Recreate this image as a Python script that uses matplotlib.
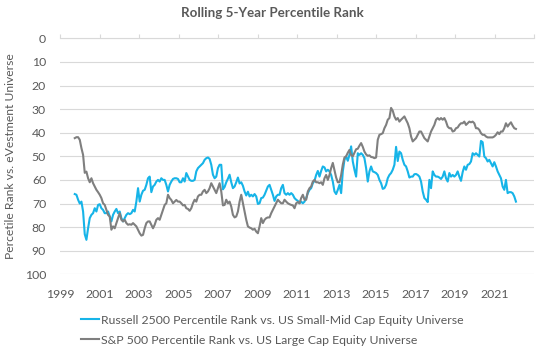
import matplotlib
matplotlib.use("Agg")
import matplotlib.pyplot as plt
import numpy as np
import pandas as pd

# monthly readings, Oct 1999 .. Feb 2022
RUSSELL_2500 = [
    66, 66.3, 68.4, 70, 69.2, 73.4, 83, 85.4, 80.5, 76.2, 74.8, 74.1, 72, 73.4, 70.6, 70.3,
    72, 72.7, 74.1, 74.1, 73.4, 75.5, 77.6, 74.8, 73.4, 72.3, 74.1, 73.4, 76.2, 77.6, 76.2, 74.8,
    74.1, 74.5, 74.1, 72.7, 73.4, 69.2, 63.5, 69.2, 66.3, 64.6, 64.2, 62.1, 59.3, 58.6, 65.2, 62.8,
    62.1, 60.7, 60, 60.7, 59.3, 60, 60, 62.1, 64.9, 62.1, 60.7, 59.6, 59.3, 59.3, 59.6, 61,
    61, 59.3,
    60.7, 57.1, 58.5, 60, 60.4, 60.4, 60, 56.4, 55, 54.3, 53.6, 52.9, 51.5, 50.8, 50.5, 51.1,
    53.6, 57.8, 59.3, 58.6, 55, 53.6, 53.6, 64, 63, 61, 59.5, 57.8, 61, 63.5, 62.8, 61,
    59, 61.5, 61, 62.5, 64.9, 66.6, 65, 67, 66.3, 67, 66, 67, 70.2, 69.9, 67.7, 67.5,
    66.3, 64.6, 62.8, 62.1, 64.2, 66.3, 68.9, 67, 66.3, 66.3, 63.5, 62.1, 65.6, 66.3, 65.6, 66.3,
    65.6, 66.3, 67.7, 68.4, 68.9, 69.9, 69.2, 69.9,
    69.2, 67.7, 65.6, 64.2, 63.5, 61.4, 60.4, 57.9, 56.2, 58.6, 56.2, 54.3, 54.7, 56.4, 55.7, 56.4,
    57.9, 60.7, 64.9, 66, 64.2, 62.1, 65.6, 56.4, 51.5, 50.1, 51.9, 49.4, 45.8, 52.2, 55.7, 58.6,
    48.7, 49.4, 48.7, 49.4, 50.8, 55, 60.7, 56.4, 54.3, 56.4, 56.7, 57.1, 57.9, 60, 61.4, 63.8,
    63.5, 62.1, 59.3, 57.9, 57.1, 55.7, 53.6, 46, 52, 48, 48.7, 51.5, 53.6, 54.3, 56.4, 59,
    58.6, 58.6, 57.6,
    57.5, 57.9, 58.6, 60.7, 64.9, 67.7, 68.4, 69.4, 60, 63.5, 56.4, 57.9, 58.6, 58.6, 59, 59.6,
    58.6, 56.4, 59.3, 60.7, 57.1, 58.6, 57.9, 58.6, 57.9, 56.4, 58.6, 60.4, 56.7, 54.3, 55.7, 53.6,
    53.3, 52.2, 48.7, 49.4, 48.7, 49.4, 50.1, 43.5, 44, 50.1, 50.8, 52.2, 51.5, 52.9, 54.3, 52.5,
    54.3, 56.4, 57.9, 59.3, 62.8, 64.2, 60, 65.6, 65.2, 65.2, 65.6, 67, 69.2,
]

SP_500 = [
    42.3, 41.9, 41.9, 43, 46.5, 49.4, 57, 56.5, 59.3, 61, 59.3, 61.4, 62.8, 64.2, 65.2, 66.3,
    67.7, 69.9, 70.6, 72.7, 74.8, 75.5, 81.1, 79.7, 80.5, 78.3, 76.2, 74.1, 76.9, 77.6, 76.9, 78.3,
    79, 78.8, 79, 78.3, 79, 79.7, 81.1, 82.6, 83.6, 83.3, 80.5, 78.3, 77.6, 77.6, 79, 80.5,
    79, 76.9, 76.2, 76.9, 74.8, 72.7, 70.6, 69.9, 66.3, 67.7, 68.5, 69.9, 69.2, 68.5, 69.2, 69.2,
    69.9, 70.8,
    70.6, 72, 72.3, 73.1, 72, 69.9, 68.4, 69.2, 67, 66.3, 66.3, 64.9, 64.2, 65.6, 64.9, 63.5,
    61.4, 62.8, 64.2, 65.6, 63.5, 61.4, 64.9, 70.8, 70.6, 68.4, 69.9, 69.2, 71.3, 74.8, 75.9, 75.5,
    73.4, 69.2, 66.3, 69.9, 73.4, 76.9, 79.7, 80.2, 80.5, 81.1, 80.7, 81.9, 82.6, 79.7, 76.2, 78.3,
    76.9, 76.2, 75.9, 75.9, 74.1, 72.7, 71.3, 69.9, 68.4, 69.2, 69.9, 69.9, 68.4, 69.2, 69.9, 70.3,
    70.6, 70.8, 72, 69.9, 69.4, 69.9, 67.7, 66.3,
    68.4, 68.4, 64.9, 63.5, 62.8, 60.7, 60, 61, 61, 61.4, 61, 62.1, 59.3, 57.9, 60, 57.9,
    55, 52.8, 56, 59, 61, 61, 58, 53.5, 50.5, 50, 48.5, 47.3, 49.5, 50, 48.5, 47,
    46.8, 45.5, 44.4, 46, 48, 49.2, 49.8, 49.6, 50.3, 50.4, 50.8, 50.5, 43, 40.9, 40.6, 40.2,
    38.1, 36.7, 34.5, 33.8, 29.5, 30.7, 33.1, 34.5, 33.8, 35.3, 34.5, 33.8, 33.1, 34.5, 36, 38.1,
    41.6, 43.7, 43,
    42.3, 40.9, 39.5, 39.5, 40.9, 42.3, 43, 43.7, 41.6, 39.5, 38.1, 36.7, 34.5, 33.8, 34.5, 33.8,
    34.5, 33.8, 35.3, 37.4, 38.1, 38.1, 39.5, 39.2, 38.1, 37.8, 36.7, 36, 36, 35.3, 36.7, 36,
    35.3, 35.6, 35.3, 36, 38.1, 38.1, 38.8, 40.2, 40.9, 40.9, 41.6, 42, 42, 42, 42, 41.6,
    40.9, 39.8, 40.6, 39.5, 39.5, 38.1, 36, 37.4, 36.4, 35.6, 37, 38.1, 38.4,
]

START, END = "1999-10-01", "2022-02-01"
YEAR_TICKS = list(range(1999, 2024, 2))
Y_TICKS = list(range(0, 101, 10))

LABEL_R2500 = "Russell 2500 Percentile Rank vs. US Small-Mid Cap Equity Universe"
LABEL_SP500 = "S&P 500 Percentile Rank vs. US Large Cap Equity Universe"

TEXT = "#595959"
GRID = "#D9D9D9"

plt.rcParams["font.family"] = ["Lato", "DejaVu Sans"]

fig = plt.figure(figsize=(5.52, 3.55), dpi=100)
ax = fig.add_axes([60 / 552, 1 - 274.3 / 355, 474 / 552, 236 / 355])

dates_r = pd.date_range(START, END, periods=len(RUSSELL_2500))
dates_s = pd.date_range(START, END, periods=len(SP_500))

ax.plot(dates_r, RUSSELL_2500, color="#16B4E8", linewidth=1.5, label=LABEL_R2500, zorder=3)
ax.plot(dates_s, SP_500, color="#7F7F7F", linewidth=1.5, label=LABEL_SP500, zorder=3)

ax.set_ylim(100, 0)
ax.set_yticks(Y_TICKS)
ax.set_xlim(pd.Timestamp("1999-01-01"), pd.Timestamp("2023-01-01"))
tick_dates = [pd.Timestamp(f"{y}-01-01") for y in YEAR_TICKS]
ax.set_xticks(tick_dates)
ax.set_xticklabels([str(y) if y < 2023 else "" for y in YEAR_TICKS])

ax.grid(True, axis="y", color=GRID, linewidth=0.8, zorder=0)
for side in ["left", "right", "bottom"]:
    ax.spines[side].set_visible(False)
ax.spines["top"].set_color(GRID)
ax.spines["top"].set_linewidth(0.8)

ax.tick_params(axis="x", top=True, bottom=False, labeltop=False, labelbottom=True,
               direction="out", length=3, color=GRID, width=0.8,
               labelsize=8.8, labelcolor=TEXT, pad=7.5)
ax.tick_params(axis="y", length=0, labelsize=8.8, labelcolor=TEXT, pad=10)

ax.set_ylabel("Percetile Rank vs. eVestment Universe", fontsize=8.7, color=TEXT)
ax.yaxis.set_label_coords(-0.093, 0.5)

fig.text(0.494, 0.963, "Rolling 5-Year Percentile Rank", ha="center", va="center",
         fontsize=9.6, fontweight="bold", color=TEXT)

leg = ax.legend(loc="upper left", bbox_to_anchor=(81 / 552, 1 - 314.5 / 355),
                bbox_transform=fig.transFigure, frameon=False, fontsize=8.8,
                handlelength=1.45, handletextpad=0.15, labelspacing=0.75,
                borderpad=0, borderaxespad=0)
for t in leg.get_texts():
    t.set_color(TEXT)

fig.savefig("out.png", dpi=100, facecolor="white")
